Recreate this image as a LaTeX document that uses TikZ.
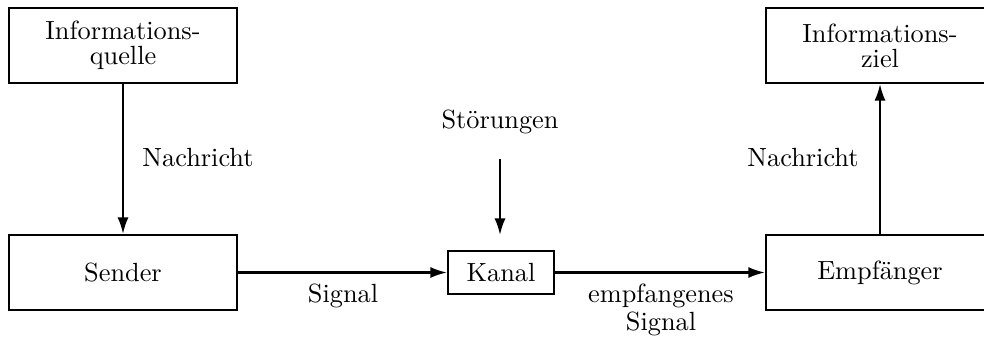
\documentclass[tikz,border=0pt]{standalone}
\usetikzlibrary{arrows.meta}
\begin{document}
\begin{tikzpicture}[x=0.3802pt,y=-0.3802pt,
  box/.style={draw,line width=0.8pt,minimum width=86.7pt,minimum height=28.5pt,inner sep=0pt,align=center,font=\fontsize{10}{9.5}\selectfont},
  kbox/.style={draw,line width=0.8pt,minimum width=40.3pt,minimum height=16.3pt,inner sep=0pt},
  lbl/.style={inner sep=0pt,font=\fontsize{10}{10.8}\selectfont},
  arr/.style={line width=0.8pt,-{Latex[length=6.3pt,width=4.2pt]}}]
\useasboundingbox (0,0) rectangle (984,338);
\node[box] (quelle) at (123,45.5) {Informations-\\quelle};
\node[box] (sender) at (123,272.5) {Sender};
\node[kbox] (kanal) at (501,272.5) {Kanal};
\node[box] (empf) at (880,272.5) {Empfänger};
\node[box] (ziel) at (880,45.5) {Informations-\\ziel};
\node[lbl] (stoer) at (500,121.5) {Störungen};
\coordinate (s1) at (500,159);
\coordinate (s2) at (500,235);
\draw[arr] (quelle) -- (sender);
\draw[arr] (sender) -- (kanal);
\draw[arr] (kanal) -- (empf);
\draw[arr] (empf) -- (ziel);
\draw[arr] (s1) -- (s2);
\node[lbl] (n1) at (198,158) {Nachricht};
\node[lbl] (n2) at (803,158) {Nachricht};
\node[lbl] (sig) at (343,296) {Signal};
\node[lbl,align=center] (es) at (661,310) {empfangenes\\Signal};
\end{tikzpicture}
\end{document}
